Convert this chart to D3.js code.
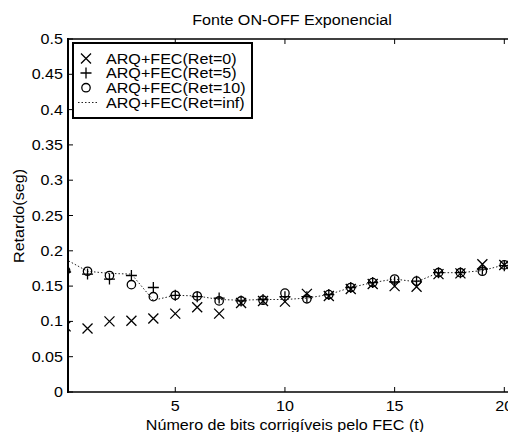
<!DOCTYPE html>
<html><head><meta charset="utf-8">
<script src="https://cdn.jsdelivr.net/npm/d3@7"></script>
<style>body{margin:0;background:#fff}svg{display:block}text{font-family:"Liberation Sans",Arial,sans-serif;fill:#000}</style>
</head><body><div id="c"></div>
<script>
const tValues = [0,1,2,3,4,5,6,7,8,9,10,11,12,13,14,15,16,17,18,19,20];
const ret0   = [0.093,0.090,0.100,0.101,0.104,0.111,0.120,0.111,0.126,0.129,0.128,0.139,0.136,0.146,0.153,0.150,0.149,0.167,0.168,0.181,0.180];
const ret5   = [0.170,0.167,0.160,0.165,0.148,0.137,0.135,0.133,0.129,0.131,0.135,0.135,0.138,0.148,0.155,0.156,0.157,0.169,0.169,0.174,0.179];
const ret10  = [0.172,0.171,0.165,0.152,0.135,0.137,0.136,0.129,0.129,0.130,0.140,0.132,0.138,0.148,0.155,0.160,0.157,0.169,0.169,0.171,0.180];
const retInf = [0.188,0.171,0.168,0.167,0.130,0.137,0.136,0.131,0.130,0.131,0.131,0.133,0.138,0.148,0.155,0.160,0.156,0.169,0.169,0.172,0.180];
const xTicks = [5,10,15,20];
const yTicks = [0,0.05,0.1,0.15,0.2,0.25,0.3,0.35,0.4,0.45,0.5];
const legendLabels = ["ARQ+FEC(Ret=0)","ARQ+FEC(Ret=5)","ARQ+FEC(Ret=10)","ARQ+FEC(Ret=inf)"];
const titleText = "Fonte ON-OFF Exponencial";
const xLabel = "Número de bits corrigíveis pelo FEC (t)";
const yLabel = "Retardo(seg)";

const W=508,H=432;
const L=68,T=39,B=392,R=540;
const x=d3.scaleLinear().domain([0,20]).range([65.6,504.3]);
const y=d3.scaleLinear().domain([0,0.5]).range([B,T]);
const FS=14, STRETCH=1.15;

const svg=d3.select("#c").append("svg").attr("width",W).attr("height",H);
function stretch(sel){sel.each(function(){const w=this.getComputedTextLength();d3.select(this).attr("textLength",w*STRETCH).attr("lengthAdjust","spacingAndGlyphs");});}

svg.append("defs").append("clipPath").attr("id","clip").append("rect").attr("x",L).attr("y",T).attr("width",R-L).attr("height",B-T);
const plot=svg.append("g").attr("clip-path","url(#clip)");

plot.append("path").datum(tValues.map((t,i)=>[t,retInf[i]]))
 .attr("d",d3.line().x(d=>x(d[0])).y(d=>y(d[1])))
 .attr("fill","none").attr("stroke","#222").attr("stroke-width",1).attr("stroke-dasharray","1.5,2");

const s=5;
const MW=1.3;
function drawX(g,cx,cy){g.append("path").attr("d",`M${cx-s},${cy-s}L${cx+s},${cy+s}M${cx-s},${cy+s}L${cx+s},${cy-s}`).attr("stroke","#000").attr("stroke-width",MW).attr("fill","none");}
function drawP(g,cx,cy){g.append("path").attr("d",`M${cx-s-0.5},${cy}L${cx+s+0.5},${cy}M${cx},${cy-s-0.5}L${cx},${cy+s+0.5}`).attr("stroke","#000").attr("stroke-width",MW).attr("fill","none");}
function drawO(g,cx,cy){g.append("circle").attr("cx",cx).attr("cy",cy).attr("r",4.2).attr("stroke","#000").attr("stroke-width",MW).attr("fill","none");}

tValues.forEach((t,i)=>{drawX(plot,x(t),y(ret0[i]));});
tValues.forEach((t,i)=>{drawP(plot,x(t),y(ret5[i]));});
tValues.forEach((t,i)=>{drawO(plot,x(t),y(ret10[i]));});

const ax=svg.append("g");
ax.append("line").attr("x1",L).attr("x2",L).attr("y1",T-1).attr("y2",B+1).attr("stroke","#000").attr("stroke-width",2);
ax.append("line").attr("x1",L).attr("x2",W+5).attr("y1",T).attr("y2",T).attr("stroke","#000").attr("stroke-width",1.5);
ax.append("line").attr("x1",L).attr("x2",W+5).attr("y1",B).attr("y2",B).attr("stroke","#000").attr("stroke-width",1.5);

yTicks.forEach(v=>{
  ax.append("line").attr("x1",L).attr("x2",L+5).attr("y1",y(v)).attr("y2",y(v)).attr("stroke","#000");
  ax.append("text").attr("x",63).attr("y",y(v)+5).attr("text-anchor","end").attr("font-size",FS).text(String(+v.toFixed(2))).call(stretch);
});
xTicks.forEach(v=>{
  ax.append("line").attr("x1",x(v)).attr("x2",x(v)).attr("y1",B).attr("y2",B-5).attr("stroke","#000");
  ax.append("line").attr("x1",x(v)).attr("x2",x(v)).attr("y1",T).attr("y2",T+5).attr("stroke","#000");
  ax.append("text").attr("x",x(v)).attr("y",411).attr("text-anchor","middle").attr("font-size",FS).text(v).call(stretch);
});

svg.append("text").attr("x",292).attr("y",24.5).attr("text-anchor","middle").attr("font-size",FS).text(titleText).call(stretch);
svg.append("text").attr("x",285).attr("y",430).attr("text-anchor","middle").attr("font-size",FS).text(xLabel).call(stretch);
svg.append("text").attr("transform","translate(24,216) rotate(-90)").attr("text-anchor","middle").attr("font-size",FS).text(yLabel).call(stretch);

const lg=svg.append("g");
lg.append("rect").attr("x",73).attr("y",43).attr("width",179).attr("height",75).attr("fill","#fff").attr("stroke","#000").attr("stroke-width",2);
const rows=[58.5,73,87.7,102.5];
legendLabels.forEach((lab,i)=>{
  lg.append("text").attr("x",106).attr("y",rows[i]+5).attr("font-size",FS).text(lab).call(stretch);
});
drawX(lg,86,rows[0]);drawP(lg,86,rows[1]);drawO(lg,86,rows[2]);
lg.append("line").attr("x1",78).attr("x2",99).attr("y1",rows[3]).attr("y2",rows[3]).attr("stroke","#222").attr("stroke-dasharray","1.5,2");
</script></body></html>
